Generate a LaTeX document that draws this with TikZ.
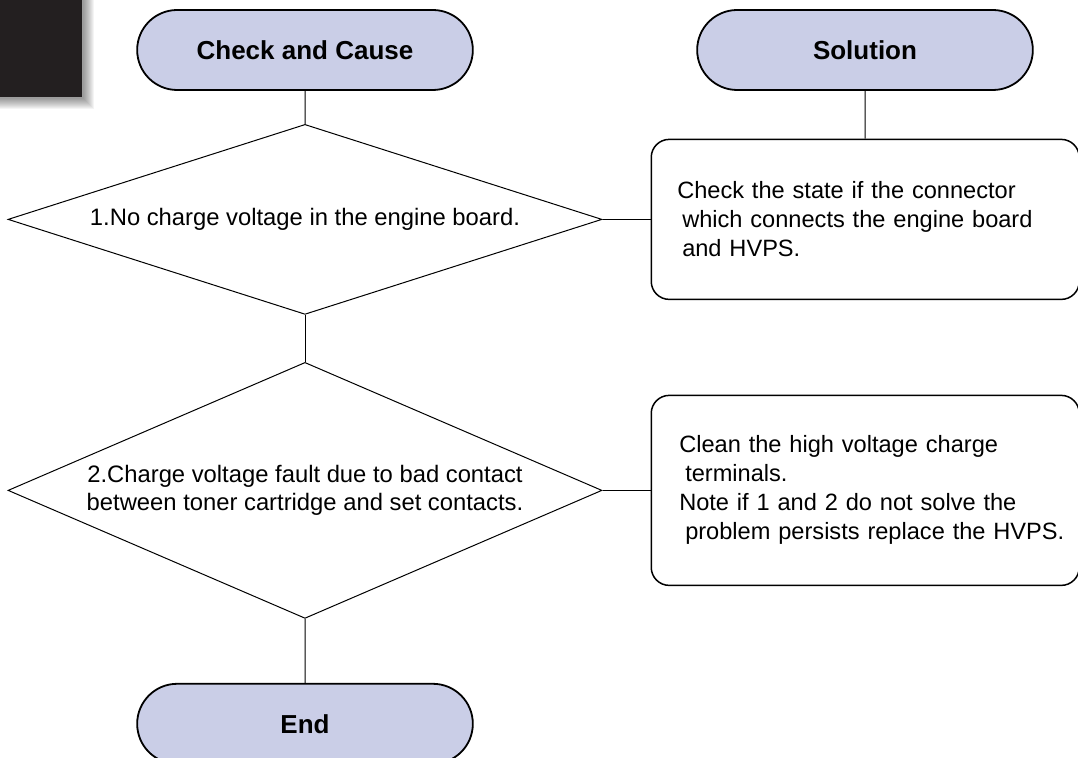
\documentclass[tikz,border=0pt]{standalone}
\usepackage{fontspec}
\setmainfont{Liberation Sans}
\usepackage{tikz}
\usetikzlibrary{shapes.geometric,shapes.misc,positioning}
\definecolor{pill}{RGB}{202,206,231}
\definecolor{ink}{RGB}{35,31,32}

\begin{document}
\begin{tikzpicture}[
  x=0.5pt, y=-0.5pt,
  term/.style={draw, rounded rectangle, fill=pill, line width=0.9pt,
               minimum width=174.5pt, minimum height=40pt,
               font=\fontsize{13}{15}\selectfont\bfseries},
  test/.style={draw, diamond, line width=0.5pt, inner sep=0pt,
               minimum width=297pt, align=center,
               font=\fontsize{11.9}{14}\selectfont},
  fix/.style={draw, rounded corners=9pt, line width=0.75pt, text width=214pt,
              inner xsep=0pt, align=left, font=\fontsize{11.8}{14.5}\selectfont},
  link/.style={draw, line width=0.5pt}
]
\useasboundingbox (0,0) rectangle (1078,758);
\foreach \d in {0,...,10}
  \fill[black, opacity=0.045] (-10,-10) rectangle (84+\d,99+\d);
\fill[ink] (-10,-10) rectangle (82,97);

\node[term] (check) at (305,50) {Check and Cause};
\node[term] (sol) at (865,50) {Solution};
\node[test, aspect=3.126, minimum height=95pt, below=16.5pt of check] (q1)
  {1.No charge voltage in the engine board.};
\node[fix, minimum height=80pt, right=24pt of q1] (fix1)
  {\hspace*{13pt}Check the state if the connector\\
   \hspace*{15.5pt}which connects the engine board\\
   \hspace*{15.5pt}and HVPS.};
\node[test, aspect=2.32, minimum height=128pt, below=23.5pt of q1] (q2)
  {2.Charge voltage fault due to bad contact\\
   between toner cartridge and set contacts.};
\node[fix, minimum height=95pt, right=24pt of q2] (fix2)
  {\hspace*{14pt}Clean the high voltage charge\\
   \hspace*{17pt}terminals.\\
   \hspace*{14pt}Note if 1 and 2 do not solve the\\
   \hspace*{17pt}problem persists replace the HVPS.};
\node[term, below=32pt of q2] (finish) {End};

\path[link] (check) -- (q1);
\path[link] (sol) -- (fix1);
\path[link] (q1) -- (fix1);
\path[link] (q1) -- (q2);
\path[link] (q2) -- (fix2);
\path[link] (q2) -- (finish);
\end{tikzpicture}
\end{document}
